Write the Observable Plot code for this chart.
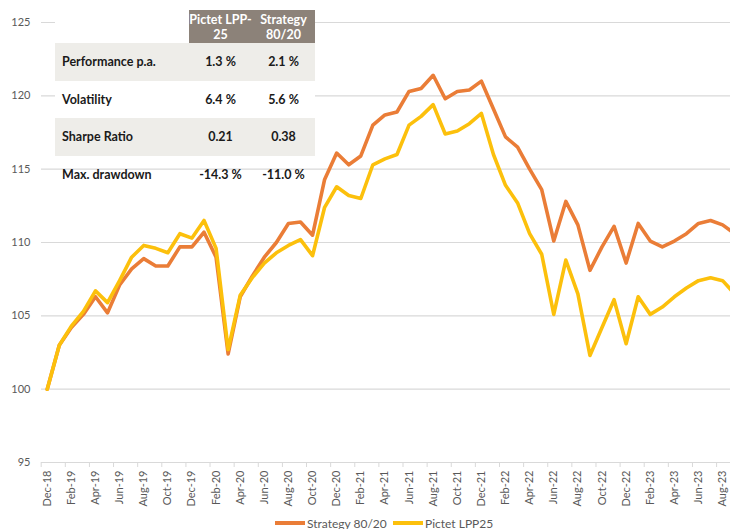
<!DOCTYPE html>
<html>
<head>
<meta charset="utf-8">
<script src="https://cdn.jsdelivr.net/npm/d3@7"></script>
<script src="https://cdn.jsdelivr.net/npm/@observablehq/plot@0.6"></script>
<style>
  html, body { margin: 0; padding: 0; background: #fff; overflow: hidden; }
  #wrap { position: relative; width: 730px; height: 529px; font-family: Lato, "Open Sans", sans-serif; }
  #chart svg { display: block; }
  #stats { position: absolute; left: 55px; top: 10px; border-collapse: collapse; font-family: Lato, sans-serif; font-weight: bold; font-size: 12.5px; color: #1a1a1a; }
  #stats td, #stats th { padding: 0; }
  #stats th { height: 33px; width: 63px; background: #8c8279; color: #fff; font-size: 12.5px; line-height: 15px; text-align: center; font-weight: bold; white-space: nowrap; }
  #stats th.blank { background: #fff; width: 134px; }
  #stats td { height: 37.5px; text-align: center; }
  #stats td.lab { text-align: left; padding-left: 7px; width: 127px; }
  #stats tr.g td { background: #eeede9; }
  #stats tr.w td { background: #fff; }
  #legend { position: absolute; left: 0; top: 514px; width: 730px; height: 18px; font-size: 12px; color: #595959; font-family: Lato, sans-serif; }
  .item { position: absolute; top: 0; display: flex; align-items: center; height: 18px; }
  .sw { width: 30px; height: 4px; margin-right: 2px; }
</style>
</head>
<body>
<div id="wrap">
  <div id="chart"></div>
  <table id="stats"></table>
  <div id="legend"></div>
</div>
<script>
// Months Dec-18 .. Sep-23
const months = ["Dec-18","Jan-19","Feb-19","Mar-19","Apr-19","May-19","Jun-19","Jul-19","Aug-19","Sep-19","Oct-19","Nov-19",
  "Dec-19","Jan-20","Feb-20","Mar-20","Apr-20","May-20","Jun-20","Jul-20","Aug-20","Sep-20","Oct-20","Nov-20",
  "Dec-20","Jan-21","Feb-21","Mar-21","Apr-21","May-21","Jun-21","Jul-21","Aug-21","Sep-21","Oct-21","Nov-21",
  "Dec-21","Jan-22","Feb-22","Mar-22","Apr-22","May-22","Jun-22","Jul-22","Aug-22","Sep-22","Oct-22","Nov-22",
  "Dec-22","Jan-23","Feb-23","Mar-23","Apr-23","May-23","Jun-23","Jul-23","Aug-23","Sep-23"];

const strategy8020 = [100.0,103.0,104.2,105.1,106.3,105.2,107.1,108.2,108.9,108.4,108.4,109.7,
  109.7,110.7,109.0,102.4,106.3,107.7,109.0,110.0,111.3,111.4,110.5,114.3,
  116.1,115.3,115.9,118.0,118.7,118.9,120.3,120.5,121.4,119.8,120.3,120.4,
  121.0,119.1,117.2,116.5,115.0,113.6,110.1,112.8,111.2,108.1,109.7,111.1,
  108.6,111.3,110.1,109.7,110.1,110.6,111.3,111.5,111.2,110.6];

const pictetLPP25 = [100.0,103.0,104.3,105.3,106.7,105.9,107.4,109.0,109.8,109.6,109.3,110.6,
  110.3,111.5,109.6,102.7,106.4,107.6,108.6,109.3,109.8,110.2,109.1,112.4,
  113.8,113.2,113.0,115.3,115.7,116.0,118.0,118.6,119.4,117.4,117.6,118.1,
  118.8,116.0,113.9,112.7,110.6,109.2,105.1,108.8,106.5,102.3,104.2,106.1,
  103.1,106.3,105.1,105.6,106.3,106.9,107.4,107.6,107.4,106.5];

const yTicks = [95, 100, 105, 110, 115, 120, 125];

const seriesNames = ["Strategy 80/20", "Pictet LPP25"];
const seriesColors = ["#ea7d37", "#fcc00c"];

// Stats table
const tableHeaderTop = ["Pictet LPP-", "Strategy"];
const tableHeaderBottom = ["25", "80/20"];
const tableRows = ["Performance p.a.", "Volatility", "Sharpe Ratio", "Max. drawdown"];
const tablePictet = ["1.3 %", "6.4 %", "0.21", "-14.3 %"];
const tableStrategy = ["2.1 %", "5.6 %", "0.38", "-11.0 %"];

const data = [];
months.forEach((m, i) => {
  data.push({i, month: m, value: strategy8020[i], series: seriesNames[0]});
});
months.forEach((m, i) => {
  data.push({i, month: m, value: pictetLPP25[i], series: seriesNames[1]});
});

const labelIdx = months.map((m, i) => i).filter(i => i % 2 === 0);
const tickPos = labelIdx.map(i => i - 0.5);

const chart = Plot.plot({
  width: 730,
  height: 514,
  marginLeft: 41,
  marginRight: 0,
  marginTop: 22,
  marginBottom: 52,
  style: {fontFamily: "Lato, sans-serif", fontSize: "11px", color: "#595959", background: "transparent"},
  x: {domain: [-0.5, 57.5], range: [40.7, 740.2]},
  y: {domain: [95, 125]},
  marks: [
    Plot.gridY(yTicks, {stroke: "#d9d9d9", strokeOpacity: 1, strokeWidth: 1.2}),
    Plot.axisY(yTicks, {tickSize: 0, tickPadding: 11, label: null, fill: "#595959"}),
    Plot.axisX(tickPos, {tickSize: 5, tickFormat: () => "", stroke: "#d9d9d9", label: null}),
    Plot.axisX(labelIdx, {tickSize: 0, tickPadding: 8, tickRotate: -90, tickFormat: i => months[i], label: null, fill: "#595959"}),
    Plot.line(data, {
      x: "i", y: "value", z: "series",
      stroke: "series",
      strokeWidth: 3.6, strokeLinejoin: "round", clip: true
    })
  ],
  color: {domain: seriesNames, range: seriesColors}
});
document.getElementById("chart").appendChild(chart);

// table
const tbl = document.getElementById("stats");
let html = "<tr><th class='blank'></th>" + tableHeaderTop.map((h, k) => "<th>" + h + "<br>" + tableHeaderBottom[k] + "</th>").join("") + "</tr>";
tableRows.forEach((r, k) => {
  const cls = k === 0 || k === 2 ? "g" : (k === 1 ? "w" : "");
  html += "<tr class='" + cls + "'><td class='lab'>" + r + "</td><td>" + tablePictet[k] + "</td><td>" + tableStrategy[k] + "</td></tr>";
});
tbl.innerHTML = html;

// legend
const leg = document.getElementById("legend");
const legLeft = [275, 393];
seriesNames.forEach((n, k) => {
  const it = document.createElement("div");
  it.className = "item";
  it.style.left = legLeft[k] + "px";
  it.innerHTML = "<div class='sw' style='background:" + seriesColors[k] + "'></div><span>" + n + "</span>";
  leg.appendChild(it);
});
</script>
</body>
</html>
